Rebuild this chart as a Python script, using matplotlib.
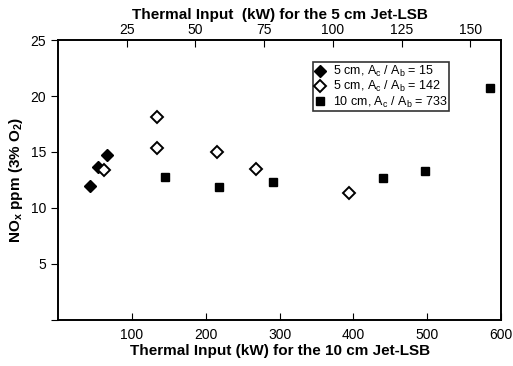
import matplotlib
matplotlib.use("Agg")
import matplotlib.pyplot as plt

# 5 cm Jet-LSB, plotted against the top axis (kW)
small_x = [11.6, 14.4, 17.7]
small_y = [12.0, 13.7, 14.7]
large_ratio_x = [16.8, 36, 36, 58, 72, 106]
large_ratio_y = [13.4, 18.1, 15.4, 15.0, 13.5, 11.3]

# 10 cm Jet-LSB, plotted against the bottom axis (kW)
big_x = [145, 218, 291, 440, 497, 585]
big_y = [12.8, 11.9, 12.3, 12.7, 13.3, 20.7]

bottom_ticks = [100, 200, 300, 400, 500, 600]
top_ticks = [25, 50, 75, 100, 125, 150]
y_ticks = [0, 5, 10, 15, 20, 25]
y_labels = ["", "5", "10", "15", "20", "25"]

plt.rcParams["font.family"] = ["Liberation Sans", "DejaVu Sans"]
plt.rcParams["mathtext.fontset"] = "custom"
plt.rcParams["mathtext.rm"] = "Liberation Sans"
plt.rcParams["mathtext.bf"] = "Liberation Sans:bold"

fig = plt.figure(figsize=(5.13, 3.66), dpi=100)
ax = fig.add_axes([0.113, 0.1257, 0.864, 0.765])
top = ax.twiny()

ax.plot(big_x, big_y, "s", color="black", ms=5.5, label=r"10 cm, A$_\mathregular{c}$ / A$_\mathregular{b}$ = 733")
h1, = top.plot(small_x, small_y, "D", color="black", ms=6.5, label=r"5 cm, A$_\mathregular{c}$ / A$_\mathregular{b}$ = 15")
h2, = top.plot(large_ratio_x, large_ratio_y, "D", mfc="white", mec="black", mew=1.4, ms=6.2,
               label=r"5 cm, A$_\mathregular{c}$ / A$_\mathregular{b}$ = 142")

ax.set_xlim(0, 600)
ax.set_ylim(0, 25)
top.set_xlim(0, 161.2)

ax.set_xticks(bottom_ticks)
ax.set_yticks(y_ticks)
ax.set_yticklabels(y_labels)
top.set_xticks(top_ticks)

ax.tick_params(axis="x", direction="in", length=5, labelsize=10, pad=6)
ax.tick_params(axis="y", direction="out", length=5, labelsize=10)
top.tick_params(axis="x", direction="in", length=5, labelsize=10, pad=2)

ax.set_xlabel("Thermal Input (kW) for the 10 cm Jet-LSB", fontsize=11, fontweight="bold", labelpad=1)
top.set_xlabel("Thermal Input  (kW) for the 5 cm Jet-LSB", fontsize=11, fontweight="bold", labelpad=3)
ax.set_ylabel(r"NO$_\mathbf{x}$ ppm (3% O$_\mathbf{2}$)", fontsize=11, fontweight="bold", labelpad=4)

for a in (ax, top):
    for s in a.spines.values():
        s.set_linewidth(1.2)

handles = [h1, h2, ax.lines[0]]
leg = top.legend(handles=handles, loc="upper left", bbox_to_anchor=(0.576, 0.92),
                 fontsize=9, frameon=True, fancybox=False, edgecolor="black",
                 handlelength=0.8, handletextpad=0.6, borderpad=0.15, labelspacing=0.0,
                 borderaxespad=0)
leg.get_frame().set_linewidth(1.2)

fig.savefig("out.png", dpi=100)
